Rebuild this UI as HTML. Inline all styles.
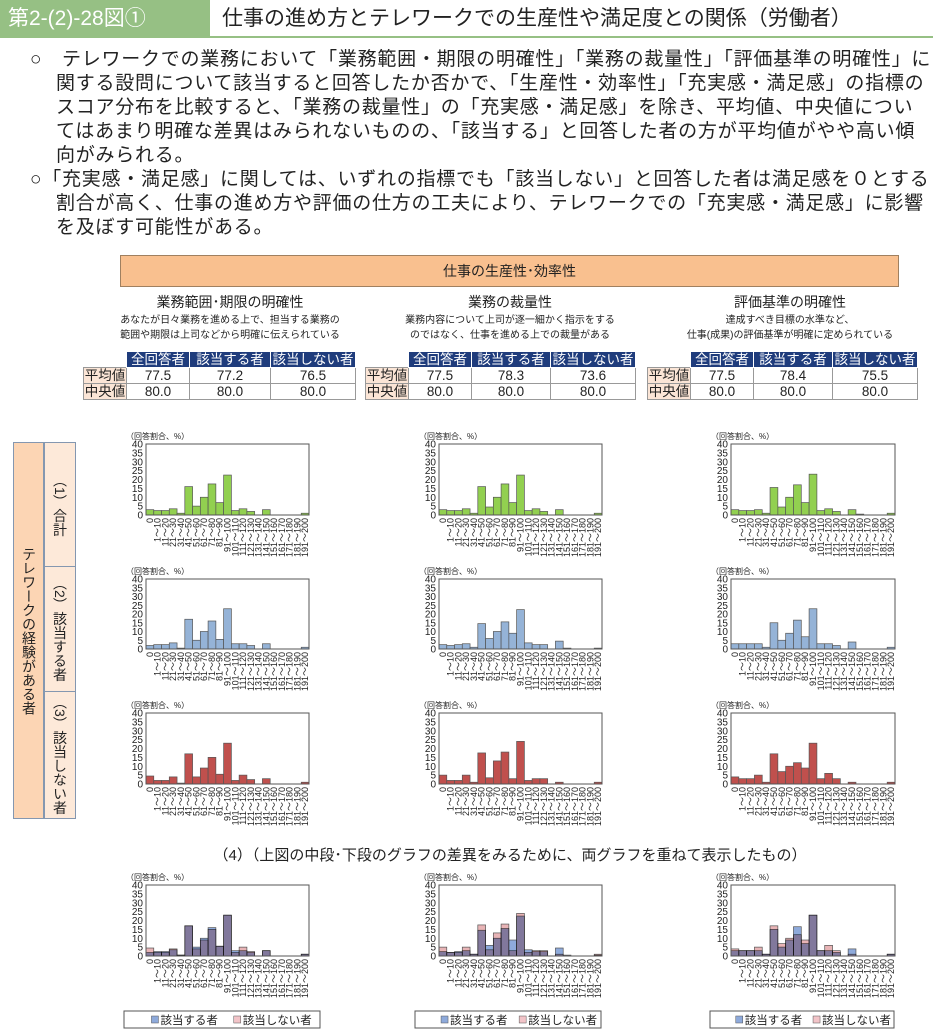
<!DOCTYPE html>
<html><head><meta charset="utf-8">
<style>
body{margin:0;width:933px;height:1030px;background:#fff;font-family:"Liberation Sans","Noto Sans CJK JP",sans-serif;color:#222;position:relative;overflow:hidden}
.abs{position:absolute}
.p{position:absolute;left:30px;font-size:19px;line-height:24px;width:876px;text-indent:-26px;padding-left:26px;letter-spacing:0.75px}
table{border-collapse:collapse;position:absolute;font-size:13.5px}
td{border:1px solid #999;text-align:center;padding:0;height:15px;line-height:15px;white-space:nowrap}
td.h{background:#1f3c7c;color:#fff;border-color:#fff}
td.l{background:#fbe5d6;width:42px}
.ct{position:absolute;text-align:center;font-size:14px}
.cs{position:absolute;text-align:center;font-size:10px;line-height:15px}
</style></head><body>
<div class="abs" style="left:0;top:0;width:210px;height:37px;background:#96c084;color:#fff;font-size:21px;line-height:37px;padding-left:8px;box-sizing:border-box">第2-(2)-28図①</div>
<div class="abs" style="left:222px;top:0;height:37px;font-size:21px;line-height:37px">仕事の進め方とテレワークでの生産性や満足度との関係（労働者）</div>
<div class="abs" style="left:0;top:36px;width:933px;height:2px;background:#96c084"></div>
<div class="p" style="top:48px">○　テレワークでの業務において「業務範囲・期限の明確性」「業務の裁量性」「評価基準の明確性」に関する設問について該当すると回答したか否かで、「生産性・効率性」「充実感・満足感」の指標のスコア分布を比較すると、「業務の裁量性」の「充実感・満足感」を除き、平均値、中央値についてはあまり明確な差異はみられないものの、「該当する」と回答した者の方が平均値がやや高い傾向がみられる。</div>
<div class="p" style="top:168px">○「充実感・満足感」に関しては、いずれの指標でも「該当しない」と回答した者は満足感を０とする割合が高く、仕事の進め方や評価の仕方の工夫により、テレワークでの「充実感・満足感」に影響を及ぼす可能性がある。</div>
<div class="abs" style="left:120px;top:255px;width:777px;height:30px;background:#f9c08f;border:1px solid #a08060;text-align:center;line-height:30px;font-size:14px">仕事の生産性･効率性</div>

<div class="ct" style="left:80px;top:292px;width:300px">業務範囲･期限の明確性</div>
<div class="cs" style="left:80px;top:313px;width:300px">あなたが日々業務を進める上で、担当する業務の<br>範囲や期限は上司などから明確に伝えられている</div>
<div class="ct" style="left:360px;top:292px;width:300px">業務の裁量性</div>
<div class="cs" style="left:360px;top:313px;width:300px">業務内容について上司が逐一細かく指示をする<br>のではなく、仕事を進める上での裁量がある</div>
<div class="ct" style="left:650px;top:292px;width:280px">評価基準の明確性</div>
<div class="cs" style="left:650px;top:313px;width:280px">達成すべき目標の水準など、<br>仕事(成果)の評価基準が明確に定められている</div>

<table style="left:83px;top:351px"><tr><td style="border:none"></td><td class="h" style="width:62px">全回答者</td><td class="h" style="width:80px">該当する者</td><td class="h" style="width:84px">該当しない者</td></tr><tr><td class="l">平均値</td><td>77.5</td><td>77.2</td><td>76.5</td></tr><tr><td class="l">中央値</td><td>80.0</td><td>80.0</td><td>80.0</td></tr></table>
<table style="left:365px;top:351px"><tr><td style="border:none"></td><td class="h" style="width:62px">全回答者</td><td class="h" style="width:78px">該当する者</td><td class="h" style="width:84px">該当しない者</td></tr><tr><td class="l">平均値</td><td>77.5</td><td>78.3</td><td>73.6</td></tr><tr><td class="l">中央値</td><td>80.0</td><td>80.0</td><td>80.0</td></tr></table>
<table style="left:647px;top:351px"><tr><td style="border:none"></td><td class="h" style="width:62px">全回答者</td><td class="h" style="width:78px">該当する者</td><td class="h" style="width:84px">該当しない者</td></tr><tr><td class="l">平均値</td><td>77.5</td><td>78.4</td><td>75.5</td></tr><tr><td class="l">中央値</td><td>80.0</td><td>80.0</td><td>80.0</td></tr></table>

<div class="abs" style="left:13px;top:442px;width:29px;height:375px;background:#fcd5b4;border:1px solid #8497b0;writing-mode:vertical-rl;text-align:center;font-size:14px;line-height:29px">テレワークの経験がある者</div>
<div class="abs" style="left:44px;top:442px;width:30px;height:123px;background:#fde9d9;border:1px solid #8497b0;writing-mode:vertical-rl;text-align:center;font-size:14px;line-height:30px">（1）合計</div>
<div class="abs" style="left:44px;top:566px;width:30px;height:124px;background:#fde9d9;border:1px solid #8497b0;writing-mode:vertical-rl;text-align:center;font-size:14px;line-height:30px">（2）該当する者</div>
<div class="abs" style="left:44px;top:691px;width:30px;height:126px;background:#fde9d9;border:1px solid #8497b0;writing-mode:vertical-rl;text-align:center;font-size:14px;line-height:30px">（3）該当しない者</div>
<div class="abs" style="left:150px;top:844px;width:720px;text-align:center;font-size:15px">（4）（上図の中段･下段のグラフの差異をみるために、両グラフを重ねて表示したもの）</div>

<svg id="s" class="abs" style="left:0;top:0" width="933" height="1030"></svg>
<script>
const categories=["0","1～10","11～20","21～30","31～40","41～50","51～60","61～70","71～80","81～90","91～100","101～110","111～120","121～130","131～140","141～150","151～160","161～170","171～180","181～190","191～200"];
const yTicks=[0,5,10,15,20,25,30,35,40];
const total1=[3,2.5,2.5,3.5,1,16,5,10,17.5,7,22.5,2.5,3.5,2,0,3,0,0,0,0,1];
const yes1=[2,2.5,2.5,3.5,0.5,17,5,10,16,5.5,23,3,3,2,0,3,0,0,0,0,1];
const no1=[4.5,2,2,4,0.5,17,4,9,15,5.5,23,2,5,2.5,0,3,0,0,0,0,1];
const total2=[3,2.5,2.5,3.5,1,16,4.5,10,17.5,7,22.5,2.5,3.5,2,0,3,0,0,0,0,1];
const yes2=[2.5,2,2.5,3,1,14.5,6,10,15.5,9,22.5,3.5,2.5,2.5,0,4.5,0.5,0,0,0,0.5];
const no2=[5,2,2,5,1,17.5,3.5,13,18,3,24,2,3,3,0,1,0,0,0,0,1];
const total3=[3,2.5,2.5,3,1,15.5,4.5,10,17,7,23,2.5,3.5,2,0,3,0.5,0,0,0,1];
const yes3=[3,3,3,3,1,15,5,9,16.5,7,23,3,3,2,0,4,0,0,0,0,1];
const no3=[4,3,3,5,1,17,7,10,12,9,23,3,6,3,0,1,0,0,0,0,1];
const cols=[{x0:146,x1:309},{x0:439,x1:602},{x0:731,x1:895}];
const rows=[{y0:444,y1:515},{y0:579,y1:649},{y0:713,y1:784},{y0:885,y1:956}];
const S=document.getElementById('s');const NS='http://www.w3.org/2000/svg';
function mk(t,a,p){const e=document.createElementNS(NS,t);for(const k in a)e.setAttribute(k,a[k]);(p||S).appendChild(e);return e;}
function chart(ci,ri,series,colors,name){
 const c=cols[ci],r=rows[ri];const g=mk('g',{});
 
 
 const ys=v=>r.y1-(v/40)*(r.y1-r.y0);const bw=(c.x1-c.x0)/categories.length;const xs=i=>c.x0+i*bw;
 const cap=mk('text',{x:c.x0-20,y:r.y0-5,'font-size':8,fill:'#222'},g);cap.textContent='（回答割合、%）';
 yTicks.forEach(t=>{const tx=mk('text',{x:c.x0-3,y:ys(t)+3.5,'font-size':10,'text-anchor':'end',fill:'#222'},g);tx.textContent=t;});
 series.forEach((d,si)=>{d.forEach((v,i)=>{if(v<=0)return;const b=mk('rect',{x:xs(i),y:ys(v),width:bw,height:ys(0)-ys(v),fill:colors[si].f,stroke:'#555','stroke-width':0.7},g);
 if(colors[si].m)b.style.mixBlendMode='multiply';
 
 });});
 mk('rect',{x:c.x0,y:r.y0,width:c.x1-c.x0,height:r.y1-r.y0,fill:'none',stroke:'#555','stroke-width':1},g);
 categories.forEach((cat,i)=>{const x=xs(i)+bw/2+3;const tx=mk('text',{x:x,y:r.y1+3,'font-size':9,'text-anchor':'end',fill:'#222',transform:`rotate(-90 ${x} ${r.y1+3})`},g);tx.textContent=cat;});
}
const G=[{f:'#92d050'}],B=[{f:'#95b3d7'}],R=[{f:'#c0504d'}],O=[{f:'#8eaadb'},{f:'#e8b4b6',m:1}];
const T=[total1,total2,total3],Y=[yes1,yes2,yes3],N=[no1,no2,no3];
for(let i=0;i<3;i++){chart(i,0,[T[i]],G,'chart-total-'+(i+1));chart(i,1,[Y[i]],B,'chart-yes-'+(i+1));chart(i,2,[N[i]],R,'chart-no-'+(i+1));chart(i,3,[Y[i],N[i]],O,'chart-overlay-'+(i+1));}
const legs=[{x:124,w:196},{x:415,w:186},{x:710,w:184}];
legs.forEach((l,i)=>{const g=mk('g',{});
 
 
 mk('rect',{x:l.x,y:1011,width:l.w,height:17,fill:'#fff',stroke:'#555'},g);
 mk('rect',{x:l.x+l.w*0.14,y:1016,width:7,height:7,fill:'#8eaadb',stroke:'#555','stroke-width':0.5},g);
 const t1=mk('text',{x:l.x+l.w*0.14+9,y:1024,'font-size':11.5,fill:'#222'},g);t1.textContent='該当する者';
 mk('rect',{x:l.x+l.w*0.56,y:1016,width:7,height:7,fill:'#f2c4c8',stroke:'#555','stroke-width':0.5},g);
 const t2=mk('text',{x:l.x+l.w*0.56+9,y:1024,'font-size':11.5,fill:'#222'},g);t2.textContent='該当しない者';});
</script>
</body></html>
